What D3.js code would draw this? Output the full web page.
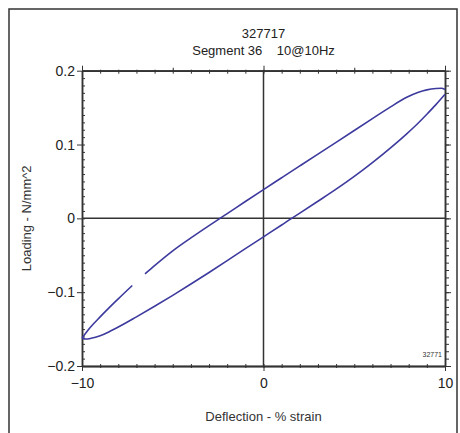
<!DOCTYPE html>
<html>
<head>
<meta charset="utf-8">
<script src="https://cdn.jsdelivr.net/npm/d3@7"></script>
<style>
  html, body { margin: 0; padding: 0; background: #fff; }
  svg { display: block; font-family: "Liberation Sans", Arial, sans-serif; }
</style>
</head>
<body>
<script>
// Hysteresis loop: loading (N/mm^2) against deflection (% strain)
const titleLines = ["327717", "Segment 36\u00a0\u00a0\u00a0\u00a010@10Hz"];
const xLabel = "Deflection - % strain";
const yLabel = "Loading - N/mm^2";
const cornerTag = "32771";

const xTickLabels = [-10, 0, 10];
const yTickLabels = [-0.2, -0.1, 0, 0.1, 0.2];

// Upper branch (null marks the break in the trace)
const upperX = [-10, -9.8, -9.5, -9, -8.5, -8, -7.23, null, -6.53, -6, -5, -4, -3, -2.4, -2, -1, 0, 1, 2, 3, 4, 5, 6, 7, 7.89, 8.5, 9, 9.5, 9.8, 10];
const upperY = [-0.162, -0.1555, -0.1465, -0.1335, -0.121, -0.109, -0.091, null, -0.0752, -0.064, -0.044, -0.0265, -0.0098, 0, 0.0065, 0.0228, 0.039, 0.055, 0.071, 0.087, 0.103, 0.119, 0.135, 0.151, 0.164, 0.1705, 0.174, 0.1758, 0.1762, 0.1745];

// Lower branch
const lowerX = [-10, -9.8, -9.5, -9, -8.5, -8, -7, -6, -5, -4, -3, -2, -1, 0, 1, 1.55, 2, 3, 4, 5, 6, 7, 7.89, 8.5, 9, 9.5, 10];
const lowerY = [-0.162, -0.1635, -0.1625, -0.159, -0.1535, -0.1472, -0.1334, -0.1191, -0.1043, -0.089, -0.0733, -0.0573, -0.041, -0.025, -0.009, 0, 0.0071, 0.0232, 0.0395, 0.0568, 0.0755, 0.0955, 0.1145, 0.1285, 0.141, 0.154, 0.168];

const W = 460, H = 433;
const svg = d3.select("body").append("svg").attr("width", W).attr("height", H);

// Outer frame
svg.append("rect")
  .attr("x", 9).attr("y", 9).attr("width", 448).attr("height", 440)
  .attr("fill", "none").attr("stroke", "#333").attr("stroke-width", 1.5);

const x = d3.scaleLinear().domain([-10, 10]).range([82, 445]);
const y = d3.scaleLinear().domain([-0.2, 0.2]).range([366, 70.7]);

const xMinor = d3.range(-10, 10.001, 1);
const yMinor = d3.range(-20, 20.5, 1).map(v => v / 100);
const axisColor = "#333";

function styleAxis(g) {
  g.selectAll("path.domain").attr("stroke", axisColor).attr("stroke-width", 1.5);
  g.selectAll(".tick line").attr("stroke", axisColor).attr("stroke-width", 1);
  g.selectAll(".tick text")
    .attr("fill", "#222").attr("font-size", 14)
    .attr("font-family", "Liberation Sans, Arial, sans-serif");
}

// Minor ticks, crossing the frame lines
svg.append("g").attr("transform", `translate(${x(-10)},0)`)
  .call(d3.axisRight(y).tickValues(yMinor).tickSize(3).tickSizeOuter(0).tickFormat(""))
  .call(styleAxis);
svg.append("g").attr("transform", `translate(${x(10)},0)`)
  .call(d3.axisRight(y).tickValues(yMinor).tickSize(4).tickSizeOuter(0).tickFormat(""))
  .call(styleAxis);
svg.append("g").attr("transform", `translate(0,${y(0.2)})`)
  .call(d3.axisBottom(x).tickValues(xMinor).tickSize(3).tickSizeOuter(0).tickFormat(""))
  .call(styleAxis);
svg.append("g").attr("transform", `translate(0,${y(0.2)})`)
  .call(d3.axisTop(x).tickValues(xMinor).tickSize(1).tickSizeOuter(0).tickFormat(""))
  .call(styleAxis);
svg.append("g").attr("transform", `translate(0,${y(-0.2)})`)
  .call(d3.axisBottom(x).tickValues(xMinor).tickSize(2).tickSizeOuter(0).tickFormat(""))
  .call(styleAxis);
svg.append("g").attr("transform", `translate(0,${y(-0.2)})`)
  .call(d3.axisTop(x).tickValues(xMinor).tickSize(2).tickSizeOuter(0).tickFormat(""))
  .call(styleAxis);

// Major ticks with labels
svg.append("g").attr("transform", `translate(${x(-10)},0)`)
  .call(d3.axisLeft(y).tickValues(yTickLabels).tickSize(5).tickPadding(2).tickSizeOuter(0)
    .tickFormat(d => d === 0 ? "0" : d3.format("")(d)))
  .call(styleAxis);
svg.append("g").attr("transform", `translate(${x(10)},0)`)
  .call(d3.axisRight(y).tickValues(yTickLabels).tickSize(6).tickSizeOuter(0).tickFormat(""))
  .call(styleAxis);
svg.append("g").attr("transform", `translate(0,${y(-0.2)})`)
  .call(d3.axisBottom(x).tickValues(xTickLabels).tickSize(5).tickPadding(7).tickSizeOuter(0))
  .call(styleAxis);
svg.append("g").attr("transform", `translate(0,${y(0.2)})`)
  .call(d3.axisTop(x).tickValues(xTickLabels).tickSize(5).tickSizeOuter(0).tickFormat(""))
  .call(styleAxis);
svg.append("g").attr("transform", `translate(0,${y(0.2)})`)
  .call(d3.axisTop(x).tickValues([-5, 5]).tickSize(3).tickSizeOuter(0).tickFormat(""))
  .call(styleAxis);

// Zero lines
svg.append("line")
  .attr("x1", x(0)).attr("x2", x(0)).attr("y1", y(0.2)).attr("y2", y(-0.2))
  .attr("stroke", axisColor).attr("stroke-width", 1.5);
svg.append("line")
  .attr("x1", x(-10)).attr("x2", x(10)).attr("y1", y(0)).attr("y2", y(0))
  .attr("stroke", axisColor).attr("stroke-width", 1.5);

// Loop branches
const line = d3.line()
  .defined(d => d[0] !== null)
  .x(d => x(d[0])).y(d => y(d[1]))
  .curve(d3.curveMonotoneX);

const upper = upperX.map((v, i) => [v, upperY[i]]);
const lower = lowerX.map((v, i) => [v, lowerY[i]]);

[upper, lower].forEach(pts => {
  svg.append("path")
    .datum(pts)
    .attr("d", line)
    .attr("fill", "none")
    .attr("stroke", "#3d3a9e")
    .attr("stroke-width", 1.6);
});

// Titles
svg.selectAll("text.title")
  .data(titleLines)
  .enter().append("text")
  .attr("class", "title")
  .attr("x", x(0))
  .attr("y", (d, i) => 38 + i * 17)
  .attr("text-anchor", "middle")
  .attr("font-size", 13)
  .attr("fill", "#222")
  .text(d => d);

svg.append("text")
  .attr("x", x(0)).attr("y", 421)
  .attr("text-anchor", "middle")
  .attr("font-size", 13).attr("fill", "#333")
  .text(xLabel);

svg.append("text")
  .attr("transform", `translate(31,${y(0)}) rotate(-90)`)
  .attr("text-anchor", "middle")
  .attr("font-size", 13).attr("fill", "#333")
  .text(yLabel);

svg.append("text")
  .attr("x", 442).attr("y", 357)
  .attr("text-anchor", "end")
  .attr("font-size", 7).attr("fill", "#333")
  .text(cornerTag);
</script>
</body>
</html>
